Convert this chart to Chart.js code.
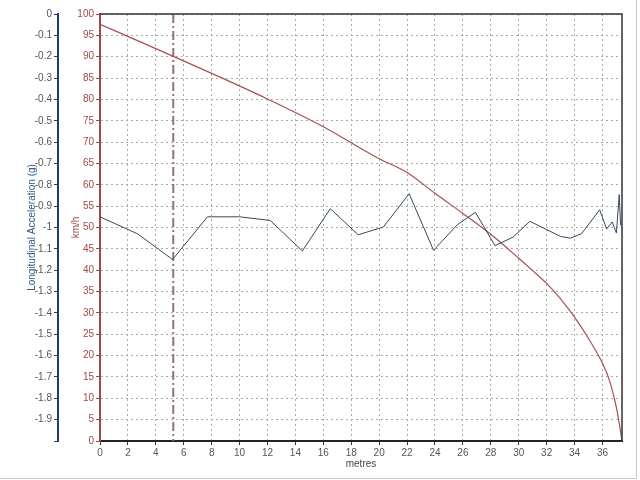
<!DOCTYPE html>
<html>
<head>
<meta charset="utf-8">
<script src="https://cdn.jsdelivr.net/npm/chart.js@4"></script>
<style>
  body { margin: 0; background: #fff; }
  canvas { display: block; }
</style>
</head>
<body>
<canvas id="chart" width="640" height="480"></canvas>
<script>
// distance (m) / longitudinal acceleration (g)
const accDist = [0, 2.7, 5.2, 7.7, 10.0, 12.2, 14.5, 16.5, 18.5, 20.3, 22.15, 23.9, 25.6, 26.9, 28.3, 29.6, 30.8, 33.0, 33.7, 34.5, 35.8, 36.3, 36.7, 37.0, 37.2, 37.3];
const accValues = [-0.95, -1.03, -1.15, -0.95, -0.95, -0.967, -1.11, -0.912, -1.034, -0.998, -0.842, -1.107, -0.987, -0.929, -1.085, -1.045, -0.971, -1.042, -1.05, -1.029, -0.917, -1.007, -0.974, -1.026, -0.846, -0.99];

// distance (m) / speed (km/h)
const speedDist = [0, 4, 8, 12, 16, 20, 22, 24, 26, 28, 30, 31, 32, 33, 34, 35, 36, 36.5, 37, 37.2, 37.4];
const speedValues = [97.6, 91.9, 86.1, 80.1, 73.6, 66.1, 62.9, 58.0, 53.3, 48.4, 42.8, 39.9, 36.9, 33.3, 29.0, 24.0, 18.2, 14.2, 7.8, 4.2, 0];

const xTicks = [0, 2, 4, 6, 8, 10, 12, 14, 16, 18, 20, 22, 24, 26, 28, 30, 32, 34, 36];
const cursorX = 5.25;
const xMax = 37.4;

const font = { family: "'Liberation Sans', Arial, sans-serif", size: 10 };

const framePlugin = {
  id: 'frame',
  beforeDatasetsDraw(chart) {
    const { ctx, chartArea: a, scales } = chart;
    const px = scales.x.getPixelForValue(cursorX);
    ctx.save();
    ctx.strokeStyle = '#8c7676';
    ctx.lineWidth = 2;
    ctx.setLineDash([9, 3, 2, 3]);
    ctx.beginPath();
    ctx.moveTo(px, a.top);
    ctx.lineTo(px, a.bottom);
    ctx.stroke();
    ctx.restore();
  },
  afterDraw(chart) {
    const { ctx, chartArea: a } = chart;
    ctx.save();
    ctx.strokeStyle = '#333';
    ctx.lineWidth = 1.5;
    ctx.beginPath();
    ctx.moveTo(a.left, a.top);
    ctx.lineTo(a.right, a.top);
    ctx.lineTo(a.right, a.bottom);
    ctx.stroke();
    // outer panel edge
    ctx.strokeStyle = '#c8c8c8';
    ctx.lineWidth = 1;
    ctx.beginPath();
    ctx.moveTo(0, 478.5);
    ctx.lineTo(636.5, 478.5);
    ctx.lineTo(636.5, 0);
    ctx.stroke();
    ctx.restore();
  }
};

new Chart(document.getElementById('chart'), {
  type: 'line',
  data: {
    datasets: [
      {
        label: 'Longitudinal Acceleration',
        data: accDist.map((d, i) => ({ x: d, y: accValues[i] })),
        yAxisID: 'acc',
        borderColor: '#34495e',
        borderWidth: 1,
        pointRadius: 0,
        tension: 0
      },
      {
        label: 'Speed',
        data: speedDist.map((d, i) => ({ x: d, y: speedValues[i] })),
        yAxisID: 'y',
        borderColor: '#a85050',
        borderWidth: 1.2,
        pointRadius: 0,
        cubicInterpolationMode: 'monotone'
      }
    ]
  },
  options: {
    responsive: false,
    animation: false,
    layout: { padding: { top: 14, right: 18, left: 0, bottom: 0 } },
    plugins: { legend: { display: false }, tooltip: { enabled: false } },
    scales: {
      x: {
        type: 'linear',
        min: 0,
        max: xMax,
        afterBuildTicks: s => { s.ticks = xTicks.map(v => ({ value: v })); },
        afterFit: s => { s.height = 39; },
        ticks: { color: '#555', font, padding: 2, maxRotation: 0, autoSkip: false },
        grid: { color: '#aaa', tickLength: 4, tickColor: '#333' },
        border: { color: '#222', width: 2, dash: [2, 3] },
        title: { display: true, text: 'metres', color: '#444', font, padding: { top: 0, bottom: 10 } }
      },
      y: {
        position: 'left',
        weight: 0,
        min: 0,
        max: 100,
        afterFit: s => { s.width = 42; },
        ticks: { stepSize: 5, color: '#a04848', font, padding: 2 },
        grid: { color: '#aaa', tickLength: 4, tickColor: '#a04848' },
        border: { color: '#a04848', width: 2, dash: [2, 3] },
        title: { display: true, text: 'km/h', color: '#a04848', font, padding: { top: 12, bottom: 0 } }
      },
      acc: {
        position: 'left',
        weight: 10,
        min: -2,
        max: 0,
        afterFit: s => { s.width = 58; },
        ticks: {
          stepSize: 0.1,
          color: '#555',
          font,
          padding: 2,
          callback: v => (Math.abs(v + 2) < 1e-6 ? '' : String(Math.round(v * 10) / 10))
        },
        grid: { drawOnChartArea: false, tickLength: 4, color: '#1c3d6e' },
        border: { color: '#1c3d6e', width: 2 },
        title: { display: true, text: 'Longitudinal Acceleration (g)', color: '#2e5a8c', font, padding: { top: 26, bottom: 0 } }
      }
    }
  },
  plugins: [framePlugin]
});
</script>
</body>
</html>
